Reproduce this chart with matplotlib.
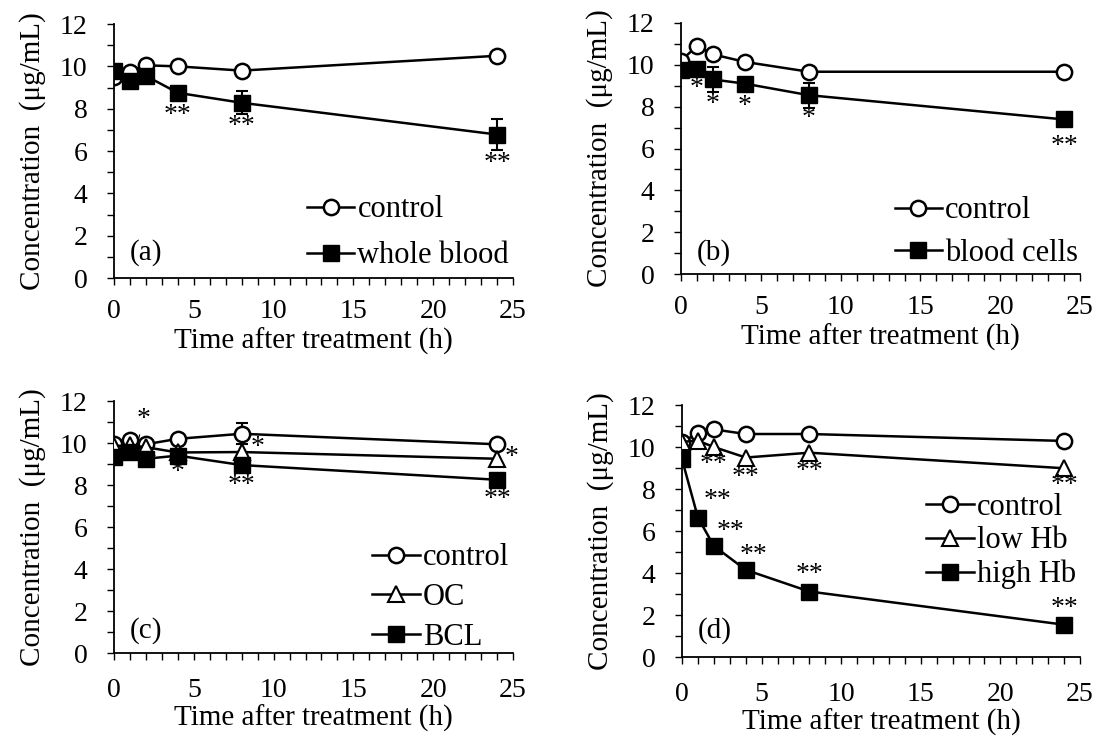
import matplotlib
matplotlib.use("Agg")
import matplotlib.pyplot as plt
from matplotlib.ticker import MultipleLocator

plt.rcParams['font.family'] = ['Liberation Serif', 'DejaVu Serif']

time_h = [0, 1, 2, 4, 8, 24]

# (a)
a_control = [9.5, 9.75, 10.05, 10.0, 9.8, 10.5]
a_whole = [9.8, 9.3, 9.55, 8.75, 8.28, 6.78]
a_whole_err = [0, 0, 0, 0, 0.55, 0.75]

# (b)
b_control = [10.2, 10.9, 10.5, 10.14, 9.67, 9.67]
b_cells = [9.75, 9.78, 9.3, 9.1, 8.55, 7.39]
b_cells_err = [0, 0, 0.6, 0, 0.6, 0]

# (c)
c_control = [9.97, 10.13, 9.94, 10.2, 10.44, 9.94]
c_control_err = [0, 0, 0, 0, 0.5, 0]
c_oc = [9.85, 9.9, 9.8, 9.55, 9.57, 9.25]
c_bcl = [9.33, 9.57, 9.25, 9.4, 8.95, 8.25]

# (d)
d_control = [10.25, 10.65, 10.84, 10.62, 10.62, 10.29]
d_low = [10.25, 10.3, 10.0, 9.5, 9.73, 8.99]
d_high = [9.41, 6.64, 5.29, 4.15, 3.12, 1.54]

# significance marks: (x, y, text)
a_marks = [(4, 7.8, '**'), (8, 7.27, '**'), (24, 5.52, '**')]
b_marks = [(1, 8.98, '*'), (2, 8.23, '*'), (4, 8.15, '*'), (8, 7.55, '*'), (24, 6.2, '**')]
c_marks = [(4, 8.73, '*'), (9.0, 9.89, '*'), (8, 8.1, '**'), (24.9, 9.41, '*'), (24, 7.43, '**')]
d_marks = [(2, 9.3, '**'), (4, 8.67, '**'), (8, 8.95, '**'), (24, 8.3, '**'),
           (2.2, 7.56, '**'), (3.03, 6.09, '**'), (4.5, 4.94, '**'), (8, 4.07, '**'), (24, 2.44, '**')]

TICK_FS = 20
LAB_FS = 21
LEG_FS = 22
STAR_FS = 20

fig = plt.figure(figsize=(10.99, 7.44), dpi=100)
positions = [
    [0.1037, 0.6263, 0.3631, 0.3414],
    [0.6197, 0.6317, 0.3631, 0.3374],
    [0.1037, 0.1223, 0.3631, 0.3387],
    [0.6206, 0.1169, 0.3621, 0.3387],
]
axes = [fig.add_axes(p) for p in positions]

LW = 1.8
open_kw = dict(marker='o', mfc='white', mec='black', mew=1.8, ms=11, color='black', lw=LW)
tri_kw = dict(marker='^', mfc='white', mec='black', mew=1.5, ms=11, color='black', lw=LW)
sq_kw = dict(marker='s', mfc='black', mec='black', ms=12, color='black', lw=LW)
err_kw = dict(fmt='none', ecolor='black', elinewidth=1.5, capsize=4, capthick=1.5)


def style(ax, label, ly, xpad, xlabpad):
    ax.set_xlim(0, 25)
    ax.set_ylim(0, 12)
    ax.xaxis.set_major_locator(MultipleLocator(5))
    ax.xaxis.set_minor_locator(MultipleLocator(1))
    ax.yaxis.set_major_locator(MultipleLocator(2))
    ax.yaxis.set_minor_locator(MultipleLocator(1))
    for s in ['top', 'right']:
        ax.spines[s].set_visible(False)
    for s in ['left', 'bottom']:
        ax.spines[s].set_linewidth(1.3)
    ax.tick_params(which='both', direction='out', width=1.0, labelsize=TICK_FS, length=5)
    ax.tick_params(axis='x', which='major', pad=xpad)
    ax.tick_params(axis='y', which='major', pad=14)
    ax.set_xlabel('Time after treatment (h)', fontsize=LAB_FS, labelpad=xlabpad)
    ax.set_ylabel('Concentration  (μg/mL)', fontsize=LAB_FS, labelpad=10)
    ax.text(0.04, ly, label, transform=ax.transAxes, fontsize=LAB_FS, ha='left', va='center')


def stars(ax, marks):
    for x, y, s in marks:
        ax.text(x, y - 0.12, s, fontsize=STAR_FS, ha='center', va='center')


def legend(ax, x, y, spacing):
    h, l = ax.get_legend_handles_labels()
    ax.legend(h, l, loc='upper right', bbox_to_anchor=(x, y), frameon=False,
              fontsize=LEG_FS, handlelength=1.55, handletextpad=0.1,
              labelspacing=spacing, borderaxespad=0, borderpad=0)


# (a)
ax = axes[0]
ax.plot(time_h, a_control, label='control', zorder=2, **open_kw)
ax.errorbar(time_h, a_whole, yerr=a_whole_err, zorder=3, **err_kw)
ax.plot(time_h, a_whole, label='whole blood', zorder=3, **sq_kw)
style(ax, '(a)', 0.10, 10, 3)
legend(ax, 0.99, 0.325, 0.55)
stars(ax, a_marks)

# (b)
ax = axes[1]
ax.plot(time_h, b_control, label='control', zorder=2, **open_kw)
ax.errorbar(time_h, b_cells, yerr=b_cells_err, zorder=3, **err_kw)
ax.plot(time_h, b_cells, label='blood cells', zorder=3, **sq_kw)
style(ax, '(b)', 0.085, 10, 3)
legend(ax, 0.995, 0.31, 0.45)
stars(ax, b_marks)

# (c)
ax = axes[2]
ax.errorbar(time_h, c_control, yerr=c_control_err, zorder=2, **err_kw)
ax.plot(time_h, c_control, label='control', zorder=2, **open_kw)
ax.plot(time_h, c_oc, label='OC', zorder=3, **tri_kw)
ax.plot(time_h, c_bcl, label='BCL', zorder=4, **sq_kw)
style(ax, '(c)', 0.09, 13, 1)
legend(ax, 0.99, 0.435, 0.35)
ax.annotate('*', xy=(1.55, 10.2), xytext=(1.84, 11.12), fontsize=STAR_FS, ha='center', va='center',
            arrowprops=dict(arrowstyle='-', color='black', lw=0.8, shrinkA=5, shrinkB=0))
stars(ax, c_marks)

# (d)
ax = axes[3]
ax.plot(time_h, d_control, label='control', zorder=2, **open_kw)
ax.plot(time_h, d_low, label='low Hb', zorder=3, **tri_kw)
ax.plot(time_h, d_high, label='high Hb', zorder=4, **sq_kw)
style(ax, '(d)', 0.105, 13, 1)
legend(ax, 0.99, 0.652, 0.15)
stars(ax, d_marks)

fig.savefig('out.png', dpi=100)
